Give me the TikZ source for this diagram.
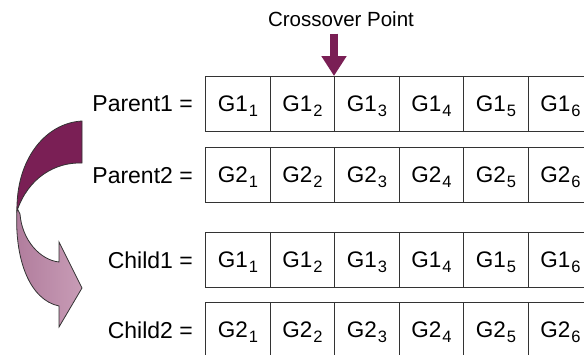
\documentclass[tikz,border=0pt]{standalone}
\usepackage{fontspec}
\setmainfont{Liberation Sans}
\usetikzlibrary{arrows.meta,positioning}
\definecolor{plum}{HTML}{7A1F55}
\definecolor{plumdark}{HTML}{561240}
\definecolor{plumpale}{HTML}{B07C9C}
\definecolor{plumlight}{HTML}{C89CB6}
\newcommand{\gene}[2]{G#1\kern1pt\smash{\raisebox{-5pt}{\fontsize{16.5}{16.5}\selectfont #2}}}

\begin{document}
\begin{tikzpicture}[x=1pt,y=-1pt,
  cell/.style={draw=black!80,line width=1.2pt,minimum width=64.5pt,minimum height=55pt,inner sep=0pt,anchor=north west,font=\fontsize{22.5}{22.5}\selectfont},
  rowlabel/.style={inner sep=0pt,font=\fontsize{23}{23}\selectfont}]
\useasboundingbox (0,0) rectangle (584,354);
\clip (0,0) rectangle (584,354);
% chromosomes
\foreach \r/\g/\top in {p1/1/76,p2/2/147,c1/1/232,c2/2/302}
  \foreach \i in {1,...,6}
    \node[cell] (\r-\i) at ({205+64.5*(\i-1)},\top) {\gene{\g}{\i}};
\node[rowlabel,left=12pt of p1-1] (parent1) {Parent1 =};
\node[rowlabel,left=12pt of p2-1] (parent2) {Parent2 =};
\node[rowlabel,left=12pt of c1-1] (child1) {Child1 =};
\node[rowlabel,left=12pt of c2-1] (child2) {Child2 =};
% crossover marker
\node[rowlabel,font=\fontsize{20.5}{20.5}\selectfont] (xpoint) at (341,19) {Crossover Point};
\draw[plum,line width=8pt,shorten <=7pt,-{Triangle[length=20pt,width=24pt]}] (xpoint.south -| p1-3.north west) -- (p1-3.north west);
% twisted arrow
\shadedraw[left color=plumpale,right color=plumlight,draw=black!80,line width=0.8pt]
  (17,208) .. controls (14,260) and (30,300) .. (59,306)
  -- (59,327) -- (82,288) -- (59,242) -- (59,262)
  .. controls (40,260) and (22,240) .. (20,214) -- cycle;
\shadedraw[left color=plum,middle color=plumdark,right color=plum,draw=black!80,line width=0.8pt]
  (82,121) -- (82,163) .. controls (55,162) and (28,178) .. (17,211)
  .. controls (16,160) and (45,123) .. (82,121) -- cycle;
\end{tikzpicture}
\end{document}
